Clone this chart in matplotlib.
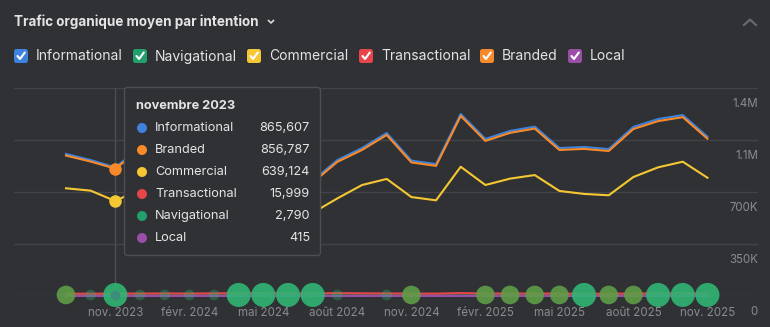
import matplotlib
matplotlib.use('Agg')
import matplotlib.pyplot as plt
from matplotlib.patches import FancyBboxPatch, Circle
from matplotlib.lines import Line2D

plt.rcParams['font.family'] = ['Inter', 'DejaVu Sans']

# monthly data, sept. 2023 -> nov. 2025
months = list(range(27))
informational = [956000, 915000, 865607, 1000000, 950000, 930000, 985000, 1015000, 1050000,
                 985000, 775000, 915000, 996000, 1097000, 911000, 888000, 1225000, 1057000,
                 1111000, 1140000, 996000, 1003000, 989000, 1138000, 1191000, 1218000, 1072000]
branded = [945000, 905000, 856787, 987000, 938000, 918000, 972000, 1002000, 1037000,
           972000, 763000, 903000, 983000, 1084000, 899000, 876000, 1212000, 1044000,
           1098000, 1127000, 983000, 990000, 976000, 1124000, 1177000, 1204000, 1059000]
commercial = [725000, 709000, 639124, 720000, 673000, 666000, 700000, 727000, 754000,
              700000, 560000, 657000, 747000, 788000, 666000, 644000, 870000, 747000,
              790000, 814000, 707000, 687000, 678000, 801000, 866000, 904000, 796000]
transactional = [15200, 15600, 15999, 16800, 17200, 16500, 17800, 18500, 19000,
                 18200, 16800, 19500, 18000, 17500, 16200, 15800, 19800, 17000,
                 16400, 16900, 16100, 15700, 15500, 16800, 17400, 17900, 16600]
navigational = [2600, 2700, 2790, 2900, 2850, 2800, 2950, 3000, 3100,
                3000, 2700, 2900, 3000, 3100, 2800, 2750, 3200, 2950,
                3000, 3050, 2900, 2850, 2800, 3000, 3100, 3150, 2950]
local = [400, 410, 415, 420, 415, 410, 425, 430, 440,
         430, 390, 415, 425, 435, 410, 405, 450, 420,
         430, 435, 415, 410, 405, 425, 440, 445, 420]
# bubble level per month (0 = none, 1 = small, 2 = medium, 3 = large)
bubbles = [2, 1, 3, 1, 1, 1, 1, 3, 3, 3, 3, 1, 0, 1, 2, 0, 0, 2, 2, 2, 2, 3, 2, 2, 3, 3, 3]

xtick_pos = [2, 5, 8, 11, 14, 17, 20, 23, 26]
xtick_labels = ['nov. 2023', 'févr. 2024', 'mai 2024', 'août 2024', 'nov. 2024',
                'févr. 2025', 'mai 2025', 'août 2025', 'nov. 2025']
ytick_vals = [0, 350000, 700000, 1050000, 1400000]
ytick_labels = ['0', '350K', '700K', '1.1M', '1.4M']

legend_names = ['Informational', 'Navigational', 'Commercial', 'Transactional', 'Branded', 'Local']
legend_colors = ['#3d82dc', '#22a06b', '#f5c833', '#e8454a', '#f98a2a', '#9a4ea8']

hover = 2
tip_title = 'novembre 2023'
tip_names = ['Informational', 'Branded', 'Commercial', 'Transactional', 'Navigational', 'Local']
tip_values = ['865,607', '856,787', '639,124', '15,999', '2,790', '415']
tip_colors = ['#3d82dc', '#f98a2a', '#f5c833', '#e8454a', '#22a06b', '#9a4ea8']

BG = '#303134'
GRID = '#434448'
TXT = '#e4e4e6'
MUTED = '#8a8b8f'
W, H = 770, 327

fig = plt.figure(figsize=(W / 100, H / 100), dpi=100, facecolor=BG)

# main chart axes: px x 14..758, px y 88..296
ax = fig.add_axes([14 / W, 1 - 296 / H, 744 / W, 208 / H])
ax.set_facecolor('none')
step = 24.67
x0 = -(66 - 14) / step
ax.set_xlim(x0, x0 + 744 / step)
ax.set_ylim(0, 1400000)
for s in ax.spines.values():
    s.set_visible(False)
for v in ytick_vals:
    ax.axhline(v, color=GRID, lw=1, zorder=0)
ax.set_yticks([])
ax.set_xticks(xtick_pos)
ax.set_xticklabels(xtick_labels, color=MUTED, fontsize=8.3)
ax.tick_params(axis='x', length=0, pad=8)
ax.axvline(hover, color='#4c4d52', lw=1, zorder=1)

lw = 1.5
series = [(informational, 0, 3), (branded, 4, 4), (commercial, 2, 3),
          (navigational, 1, 3), (local, 5, 3), (transactional, 3, 3)]
for data, ci, z in series:
    ax.plot(months, data, color=legend_colors[ci], lw=lw, zorder=z, clip_on=False)

ax.plot([hover], [branded[hover]], 'o', color=legend_colors[4], ms=8, zorder=5)
ax.plot([hover], [commercial[hover]], 'o', color=legend_colors[2], ms=8, zorder=5)

sizes = {1: 60, 2: 180, 3: 300}
cols = {1: ('#2fb574', 0.32), 2: ('#5f9d48', 0.9), 3: ('#2fb574', 0.9)}
for m, b in zip(months, bubbles):
    if b == 0:
        continue
    c, a = cols[b]
    ax.scatter([m], [7000], s=sizes[b], color=c, alpha=a, edgecolors='none', zorder=6,
               clip_on=False)
ax.plot([hover], [navigational[hover] + 4000], 'o', color='#3b8f78', ms=6, zorder=7,
        clip_on=False)

# overlay axes in pixel units for text, legend and tooltip
ov = fig.add_axes([0, 0, 1, 1])
ov.set_xlim(0, W)
ov.set_ylim(H, 0)
ov.axis('off')
ov.patch.set_alpha(0)

for v, lab in zip(ytick_vals, ytick_labels):
    ypx = 296 - v / 1400000 * 208
    ov.text(758, ypx + 16, lab, color=MUTED, fontsize=8.3, ha='right', va='center')

ov.text(14, 22, 'Trafic organique moyen par intention', color=TXT, fontsize=9.7,
        fontweight='bold', ha='left', va='center')
ov.add_line(Line2D([268.5, 271, 273.5], [20.5, 23, 20.5], color=TXT, lw=1.1))
ov.add_line(Line2D([744, 750, 756], [25, 19.5, 25], color='#6a6b70', lw=1.5))

box_x = [14, 133, 247, 359, 480, 568]
for bx, name, c in zip(box_x, legend_names, legend_colors):
    ov.add_patch(FancyBboxPatch((bx, 49), 14, 14, boxstyle='round,pad=0,rounding_size=2.5',
                                fc=c, ec='none'))
    ov.add_line(Line2D([bx + 3.5, bx + 6, bx + 10.8], [56, 59, 52.5], color='white', lw=1.5,
                       solid_capstyle='round', solid_joinstyle='round'))
    ov.text(bx + 22, 56.5, name, color=TXT, fontsize=10, ha='left', va='center')

# tooltip
ov.add_patch(FancyBboxPatch((124.5, 87.5), 196, 168, boxstyle='round,pad=0,rounding_size=3',
                            fc=BG, ec='#4d4e53', lw=1, zorder=10))
ov.text(136, 106, tip_title, color=TXT, fontsize=9.2, fontweight='bold',
        ha='left', va='center', zorder=11)
for k, (name, val, c) in enumerate(zip(tip_names, tip_values, tip_colors)):
    ry = 128 + 22 * k
    ov.add_patch(Circle((142, ry), 5, fc=c, ec='none', zorder=11))
    ov.text(155, ry, name, color=TXT, fontsize=9.2, ha='left', va='center', zorder=11)
    ov.text(310, ry, val, color=TXT, fontsize=9.2, ha='right', va='center', zorder=11)

fig.savefig('out.png', dpi=100, facecolor=BG)
